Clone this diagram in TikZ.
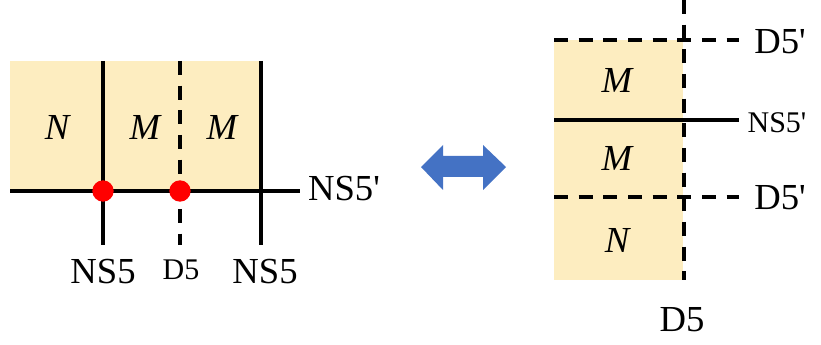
\documentclass[tikz,border=0pt]{standalone}
\usepackage{fontspec}
\setmainfont{Liberation Serif}
\definecolor{fillc}{HTML}{FDEDC0}
\definecolor{arrc}{HTML}{4472C4}
\tikzset{
  ln/.style={line width=2.5pt, black},
  dl/.style={line width=2.5pt, black, dash pattern=on 10.5pt off 8pt},
  lab/.style={inner sep=0pt, font=\fontsize{27.5}{30}\selectfont},
  labs/.style={inner sep=0pt, font=\fontsize{22.5}{25}\selectfont},
  var/.style={inner sep=0pt, font=\fontsize{27.5}{30}\selectfont\itshape},
  dot/.style={circle, fill=red, inner sep=0pt, minimum size=16pt},
}
\begin{document}
\begin{tikzpicture}[x=0.75pt,y=-0.75pt]
\useasboundingbox (0,0) rectangle (821,345);
% ---------- left ----------
\fill[fillc] (10,61) rectangle (261,191);
\coordinate (hl) at (10,191); \coordinate (hr) at (300,191);
\coordinate (a1) at (103,61); \coordinate (a2) at (103,245);
\coordinate (b1) at (180,61); \coordinate (b2) at (180,245);
\coordinate (c1) at (261,61); \coordinate (c2) at (261,245);
\draw[ln] (a1) -- (a2);
\draw[dl] (b1) -- (b2);
\draw[ln] (c1) -- (c2);
\draw[ln] (hl) -- (hr);
\node[dot] (d1) at (103,191) {};
\node[dot] (d2) at (180,191) {};
\node[var] (n1) at (57,127) {N};
\node[var] (m1) at (145,127) {M};
\node[var] (m2) at (222,127) {M};
\node[lab] (ns5a) at (103,272) {NS5};
\node[labs] (d5a) at (181,270) {D5};
\node[lab] (ns5b) at (265,272) {NS5};
\node[lab] (ns5p) at (344,189) {NS5\textquotesingle};
% ---------- arrow ----------
\fill[arrc] (421,167) -- (443,145) -- (443,156) -- (483,156) -- (483,145) -- (506,167)
  -- (483,190) -- (483,177) -- (443,177) -- (443,190) -- cycle;
% ---------- right ----------
\fill[fillc] (554,40) rectangle (683,280);
\coordinate (v1) at (684,0); \coordinate (v2) at (684,280);
\coordinate (t1) at (554,40); \coordinate (t2) at (739,40);
\coordinate (s1) at (554,120); \coordinate (s2) at (739,120);
\coordinate (u1) at (554,197); \coordinate (u2) at (739,197);
\draw[dl] (t1) -- (t2);
\draw[ln] (s1) -- (s2);
\draw[dl] (u1) -- (u2);
\draw[dl] (v1) -- (v2);
\node[var] (m3) at (617,80) {M};
\node[var] (m4) at (617,158) {M};
\node[var] (n2) at (617,240) {N};
\node[lab] (d5p1) at (780,42) {D5\textquotesingle};
\node[labs] (ns5p2) at (777,123) {NS5\textquotesingle};
\node[lab] (d5p2) at (780,198) {D5\textquotesingle};
\node[lab] (d5b) at (682,320) {D5};
\end{tikzpicture}
\end{document}
